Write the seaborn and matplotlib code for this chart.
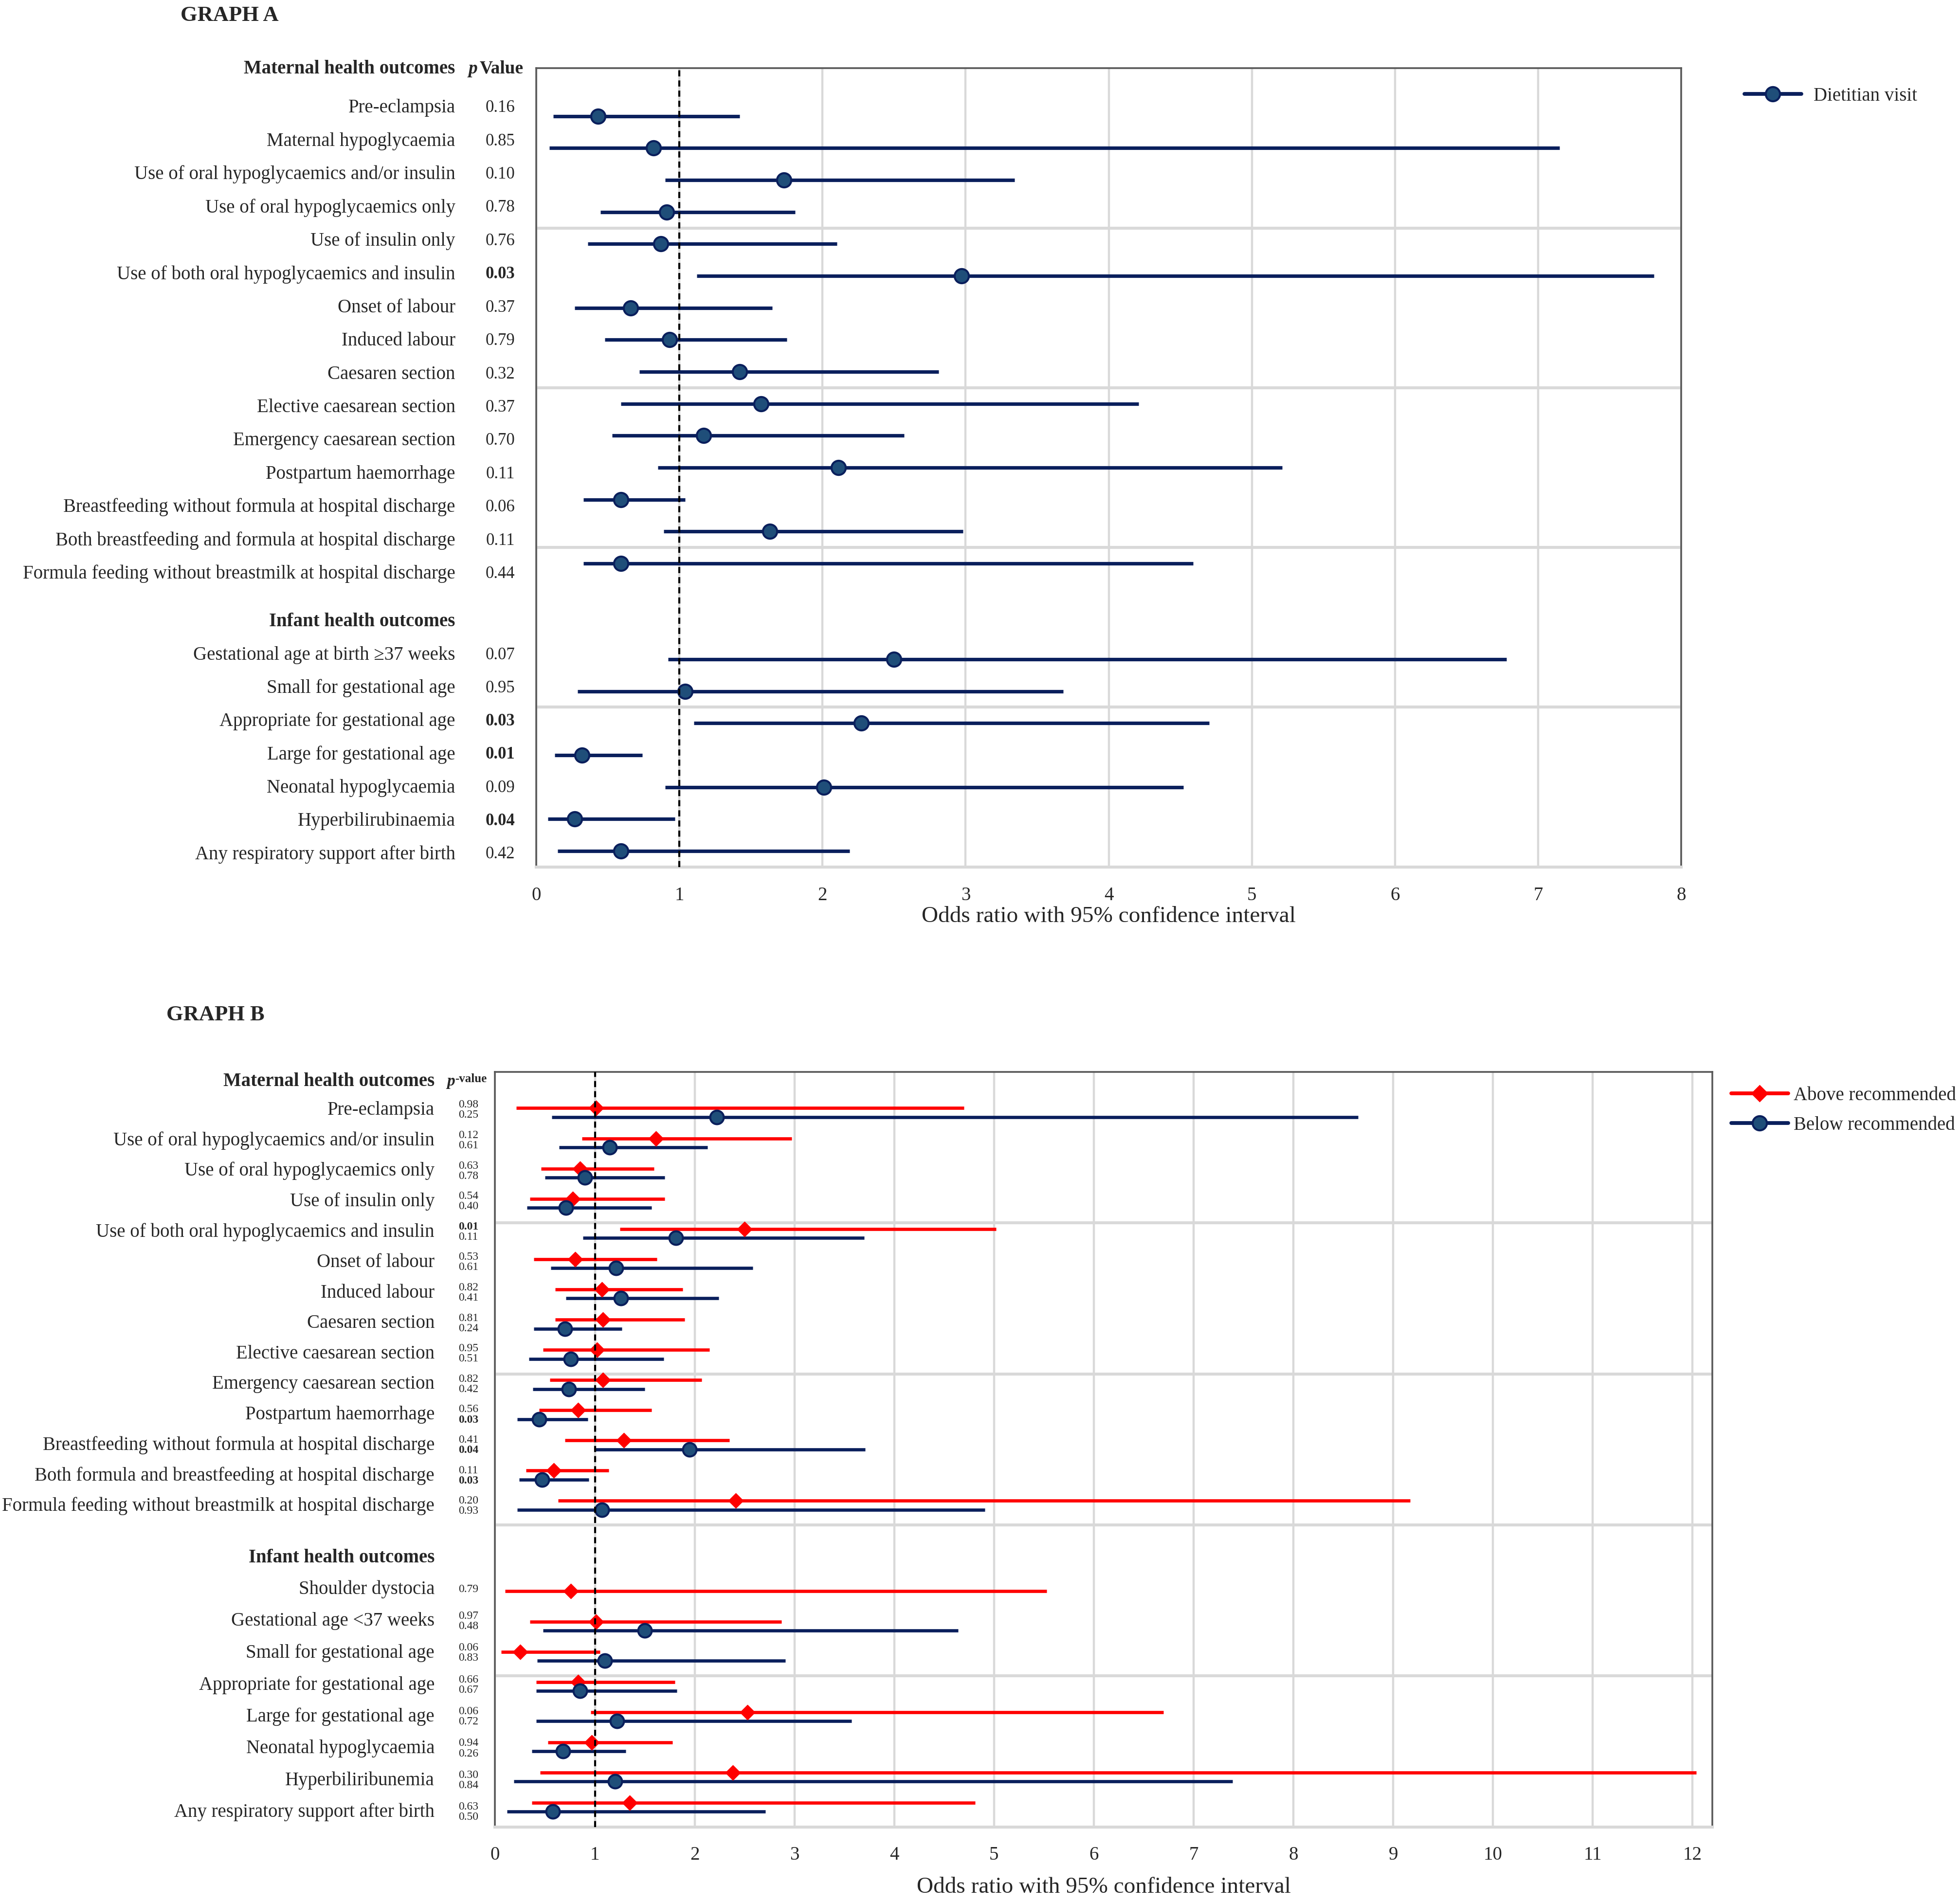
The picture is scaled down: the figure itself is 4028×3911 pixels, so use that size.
import numpy as np
import pandas as pd
import seaborn as sns
import matplotlib.pyplot as plt
from matplotlib.lines import Line2D
from matplotlib.transforms import blended_transform_factory

sns.set_style("white")
plt.rcParams['font.family'] = ['Liberation Serif', 'DejaVu Serif']

NAVY = '#0A1F5C'
FILL = '#1F4E79'
RED = '#FF0000'
GRID = '#D9D9D9'

# ---------------- Graph A: dietitian visit ----------------
a_maternal = [
    'Pre-eclampsia', 'Maternal hypoglycaemia',
    'Use of oral hypoglycaemics and/or insulin', 'Use of oral hypoglycaemics only',
    'Use of insulin only', 'Use of both oral hypoglycaemics and insulin',
    'Onset of labour', 'Induced labour', 'Caesaren section',
    'Elective caesarean section', 'Emergency caesarean section',
    'Postpartum haemorrhage', 'Breastfeeding without formula at hospital discharge',
    'Both breastfeeding and formula at hospital discharge',
    'Formula feeding without breastmilk at hospital discharge',
]
a_infant = [
    'Gestational age at birth \u226537 weeks', 'Small for gestational age',
    'Appropriate for gestational age', 'Large for gestational age',
    'Neonatal hypoglycaemia', 'Hyperbilirubinaemia',
    'Any respiratory support after birth',
]
a_or = [0.43, 0.82, 1.73, 0.91, 0.87, 2.97, 0.66, 0.93, 1.42, 1.57, 1.17, 2.11, 0.59, 1.63, 0.59,
        2.50, 1.04, 2.27, 0.32, 2.01, 0.27, 0.59]
a_lo = [0.12, 0.09, 0.90, 0.45, 0.36, 1.12, 0.27, 0.48, 0.72, 0.59, 0.53, 0.85, 0.33, 0.89, 0.33,
        0.92, 0.29, 1.10, 0.13, 0.90, 0.08, 0.15]
a_hi = [1.42, 7.15, 3.34, 1.81, 2.10, 7.81, 1.65, 1.75, 2.81, 4.21, 2.57, 5.21, 1.04, 2.98, 4.59,
        6.78, 3.68, 4.70, 0.74, 4.52, 0.97, 2.19]
a_p = ['0.16', '0.85', '0.10', '0.78', '0.76', '0.03', '0.37', '0.79', '0.32', '0.37', '0.70',
       '0.11', '0.06', '0.11', '0.44',
       '0.07', '0.95', '0.03', '0.01', '0.09', '0.04', '0.42']

# ---------------- Graph B: gestational weight gain ----------------
b_maternal = [
    'Pre-eclampsia', 'Use of oral hypoglycaemics and/or insulin',
    'Use of oral hypoglycaemics only', 'Use of insulin only',
    'Use of both oral hypoglycaemics and insulin', 'Onset of labour',
    'Induced labour', 'Caesaren section', 'Elective caesarean section',
    'Emergency caesarean section', 'Postpartum haemorrhage',
    'Breastfeeding without formula at hospital discharge',
    'Both formula and breastfeeding at hospital discharge',
    'Formula feeding without breastmilk at hospital discharge',
]
b_infant = [
    'Shoulder dystocia', 'Gestational age <37 weeks', 'Small for gestational age',
    'Appropriate for gestational age', 'Large for gestational age',
    'Neonatal hypoglycaemia', 'Hyperbiliribunemia', 'Any respiratory support after birth',
]
above_or = [1.01, 1.61, 0.85, 0.78, 2.50, 0.80, 1.07, 1.08, 1.02, 1.08, 0.83, 1.29, 0.59, 2.41,
            0.76, 1.01, 0.25, 0.83, 2.53, 0.97, 2.38, 1.35]
above_lo = [0.21, 0.87, 0.46, 0.35, 1.25, 0.39, 0.60, 0.60, 0.48, 0.55, 0.44, 0.70, 0.31, 0.63,
            0.10, 0.35, 0.06, 0.41, 0.96, 0.53, 0.45, 0.37]
above_hi = [4.70, 2.97, 1.59, 1.70, 5.02, 1.62, 1.88, 1.90, 2.15, 2.07, 1.57, 2.35, 1.14, 9.17,
            5.53, 2.87, 1.05, 1.80, 6.70, 1.78, 12.04, 4.81]
below_or = [2.22, 1.15, 0.90, 0.71, 1.81, 1.21, 1.26, 0.70, 0.76, 0.74, 0.44, 1.95, 0.47, 1.07,
            np.nan, 1.50, 1.10, 0.85, 1.22, 0.68, 1.20, 0.58]
below_lo = [0.57, 0.64, 0.50, 0.32, 0.88, 0.56, 0.71, 0.39, 0.34, 0.38, 0.22, 1.00, 0.24, 0.22,
            np.nan, 0.48, 0.42, 0.41, 0.41, 0.37, 0.19, 0.12]
below_hi = [8.65, 2.13, 1.70, 1.57, 3.70, 2.58, 2.24, 1.27, 1.69, 1.50, 0.93, 3.71, 0.94, 4.91,
            np.nan, 4.64, 2.91, 1.82, 3.57, 1.31, 7.39, 2.71]
above_p = ['0.98', '0.12', '0.63', '0.54', '0.01', '0.53', '0.82', '0.81', '0.95', '0.82', '0.56',
           '0.41', '0.11', '0.20', '0.79', '0.97', '0.06', '0.66', '0.06', '0.94', '0.30', '0.63']
below_p = ['0.25', '0.61', '0.78', '0.40', '0.11', '0.61', '0.41', '0.24', '0.51', '0.42', '0.03',
           '0.04', '0.03', '0.93', '', '0.48', '0.83', '0.67', '0.72', '0.26', '0.84', '0.50']

# row positions (y axis runs 0..25, grid every 5); text labels sit on their own spacing
a_rows = np.concatenate([np.arange(len(a_maternal)) + 1.5, np.arange(len(a_infant)) + 18.5])
a_text = np.concatenate([1.227 + 1.0418 * np.arange(len(a_maternal)),
                         18.35 + 1.040 * np.arange(len(a_infant))])
b_rows = np.concatenate([np.arange(len(b_maternal)) + 1.35, np.arange(len(b_infant)) + 17.35])
b_text = np.concatenate([1.246 + 1.009 * np.arange(len(b_maternal)),
                         17.12 + 1.054 * np.arange(len(b_infant))])

df_a = pd.DataFrame({'outcome': a_maternal + a_infant, 'OR': a_or, 'lo': a_lo, 'hi': a_hi,
                     'p': a_p, 'y': a_rows, 'ty': a_text})
df_b = pd.DataFrame({'outcome': b_maternal + b_infant, 'y': b_rows, 'ty': b_text,
                     'above_or': above_or, 'above_lo': above_lo, 'above_hi': above_hi,
                     'below_or': below_or, 'below_lo': below_lo, 'below_hi': below_hi,
                     'above_p': above_p, 'below_p': below_p})
df_b['y_above'] = df_b['y'] - 0.15
df_b['y_below'] = df_b['y'] + 0.15

fig = plt.figure(figsize=(20.14, 19.56), dpi=200)
ax_a = fig.add_axes([0.2736, 0.5443, 0.5842, 0.4196])
ax_b = fig.add_axes([0.2526, 0.0400, 0.6211, 0.3966])


def style_axes(ax, xmax, ticks):
    ax.set_xlim(0, xmax)
    ax.set_ylim(25, 0)
    ax.set_xticks(ticks)
    ax.set_xticklabels([str(t) for t in ticks], fontsize=14)
    ax.set_yticks([])
    ax.grid(axis='x', color=GRID, lw=1.6, zorder=0)
    for yy in [5, 10, 15, 20]:
        ax.axhline(yy, color=GRID, lw=2.2, zorder=1)
    ax.axvline(1, color='black', lw=1.5, ls=(0, (3, 2)), zorder=5)
    for side in ['top', 'left', 'right']:
        ax.spines[side].set_color('#595959')
        ax.spines[side].set_linewidth(1.3)
    ax.spines['bottom'].set_color(GRID)
    ax.spines['bottom'].set_linewidth(2.2)
    ax.tick_params(axis='x', length=0, pad=14)


# ---------------- draw graph A ----------------
style_axes(ax_a, 8, list(range(0, 9)))
ax_a.hlines(df_a['y'], df_a['lo'], df_a['hi'], color=NAVY, lw=2.6, zorder=3)
sns.scatterplot(data=df_a, x='OR', y='y', ax=ax_a, marker='o', s=110, color=FILL,
                edgecolor=NAVY, linewidth=1.5, zorder=4, legend=False)
ax_a.set_xlabel('Odds ratio with 95% confidence interval', fontsize=17, labelpad=1.5)
ax_a.set_ylabel('')

tr_a = blended_transform_factory(fig.transFigure, ax_a.transData)
for _, r in df_a.iterrows():
    ax_a.text(0.2323, r['ty'], r['outcome'], transform=tr_a, ha='right', va='center',
              fontsize=14, clip_on=False)
    ax_a.text(0.2552, r['ty'], r['p'], transform=tr_a, ha='center', va='center',
              fontsize=12.5, fontweight='bold' if float(r['p']) < 0.05 else 'normal',
              clip_on=False)
ax_a.text(0.2323, 0.0, 'Maternal health outcomes', transform=tr_a, ha='right', va='center',
          fontsize=14, fontweight='bold', clip_on=False)
ax_a.text(0.2323, 17.3, 'Infant health outcomes', transform=tr_a, ha='right', va='center',
          fontsize=14, fontweight='bold', clip_on=False)
ax_a.text(0.2390, 0.0, 'p', transform=tr_a, ha='left', va='center', fontsize=13.5,
          fontweight='bold', fontstyle='italic', clip_on=False)
ax_a.text(0.2447, 0.0, 'Value', transform=tr_a, ha='left', va='center', fontsize=13.5,
          fontweight='bold', clip_on=False)
fig.text(0.0921, 0.9918, 'GRAPH A', fontsize=16, fontweight='bold', ha='left', va='center')

leg_a = [Line2D([0], [0], color=NAVY, lw=2.8, marker='o', markersize=10.5,
                markerfacecolor=FILL, markeredgecolor=NAVY, markeredgewidth=1.5)]
fig.legend(leg_a, ['Dietitian visit'], loc='center left', bbox_to_anchor=(0.890, 0.9494),
           frameon=False, fontsize=14, handlelength=3.0, handletextpad=0.65,
           borderaxespad=0, borderpad=0)

# ---------------- draw graph B ----------------
style_axes(ax_b, 12.2, list(range(0, 13)))
ax_b.hlines(df_b['y_above'], df_b['above_lo'], df_b['above_hi'], color=RED, lw=2.4, zorder=3)
sns.scatterplot(data=df_b, x='above_or', y='y_above', ax=ax_b, marker='D', s=60, color=RED,
                edgecolor=RED, linewidth=0.5, zorder=4, legend=False)
ok = df_b['below_or'].notna()
ax_b.hlines(df_b.loc[ok, 'y_below'], df_b.loc[ok, 'below_lo'], df_b.loc[ok, 'below_hi'],
            color=NAVY, lw=2.4, zorder=3)
sns.scatterplot(data=df_b[ok], x='below_or', y='y_below', ax=ax_b, marker='o', s=100,
                color=FILL, edgecolor=NAVY, linewidth=1.5, zorder=4, legend=False)
ax_b.set_xlabel('Odds ratio with 95% confidence interval', fontsize=17, labelpad=9.5)
ax_b.set_ylabel('')

tr_b = blended_transform_factory(fig.transFigure, ax_b.transData)
for _, r in df_b.iterrows():
    ax_b.text(0.2217, r['ty'], r['outcome'], transform=tr_b, ha='right', va='center',
              fontsize=14, clip_on=False)
    if r['below_p'] == '':
        ax_b.text(0.2389, r['ty'], r['above_p'], transform=tr_b, ha='center',
                  va='center', fontsize=8.5, clip_on=False)
        continue
    ax_b.text(0.2389, r['ty'] - 0.17, r['above_p'], transform=tr_b, ha='center',
              va='center', fontsize=8.5,
              fontweight='bold' if float(r['above_p']) < 0.05 else 'normal', clip_on=False)
    ax_b.text(0.2389, r['ty'] + 0.17, r['below_p'], transform=tr_b, ha='center',
              va='center', fontsize=8.5,
              fontweight='bold' if float(r['below_p']) < 0.05 else 'normal', clip_on=False)
ax_b.text(0.2217, 0.29, 'Maternal health outcomes', transform=tr_b, ha='right', va='center',
          fontsize=14, fontweight='bold', clip_on=False)
ax_b.text(0.2217, 16.08, 'Infant health outcomes', transform=tr_b, ha='right', va='center',
          fontsize=14, fontweight='bold', clip_on=False)
ax_b.text(0.2280, 0.29, 'p', transform=tr_b, ha='left', va='center', fontsize=12,
          fontweight='bold', fontstyle='italic', clip_on=False)
ax_b.text(0.2322, 0.22, '-value', transform=tr_b, ha='left', va='center', fontsize=9,
          fontweight='bold', clip_on=False)
fig.text(0.0849, 0.4668, 'GRAPH B', fontsize=16, fontweight='bold', ha='left', va='center')

leg_b = [Line2D([0], [0], color=RED, lw=2.8, marker='D', markersize=8,
                markerfacecolor=RED, markeredgecolor=RED),
         Line2D([0], [0], color=NAVY, lw=2.8, marker='o', markersize=10.5,
                markerfacecolor=FILL, markeredgecolor=NAVY, markeredgewidth=1.5)]
fig.legend(leg_b, ['Above recommended', 'Below recommended'], loc='center left',
           bbox_to_anchor=(0.8833, 0.4166), frameon=False, fontsize=14, handlelength=3.0,
           handletextpad=0.3, labelspacing=0.62, borderaxespad=0, borderpad=0)

fig.savefig('out.png', dpi=200, facecolor='white')
